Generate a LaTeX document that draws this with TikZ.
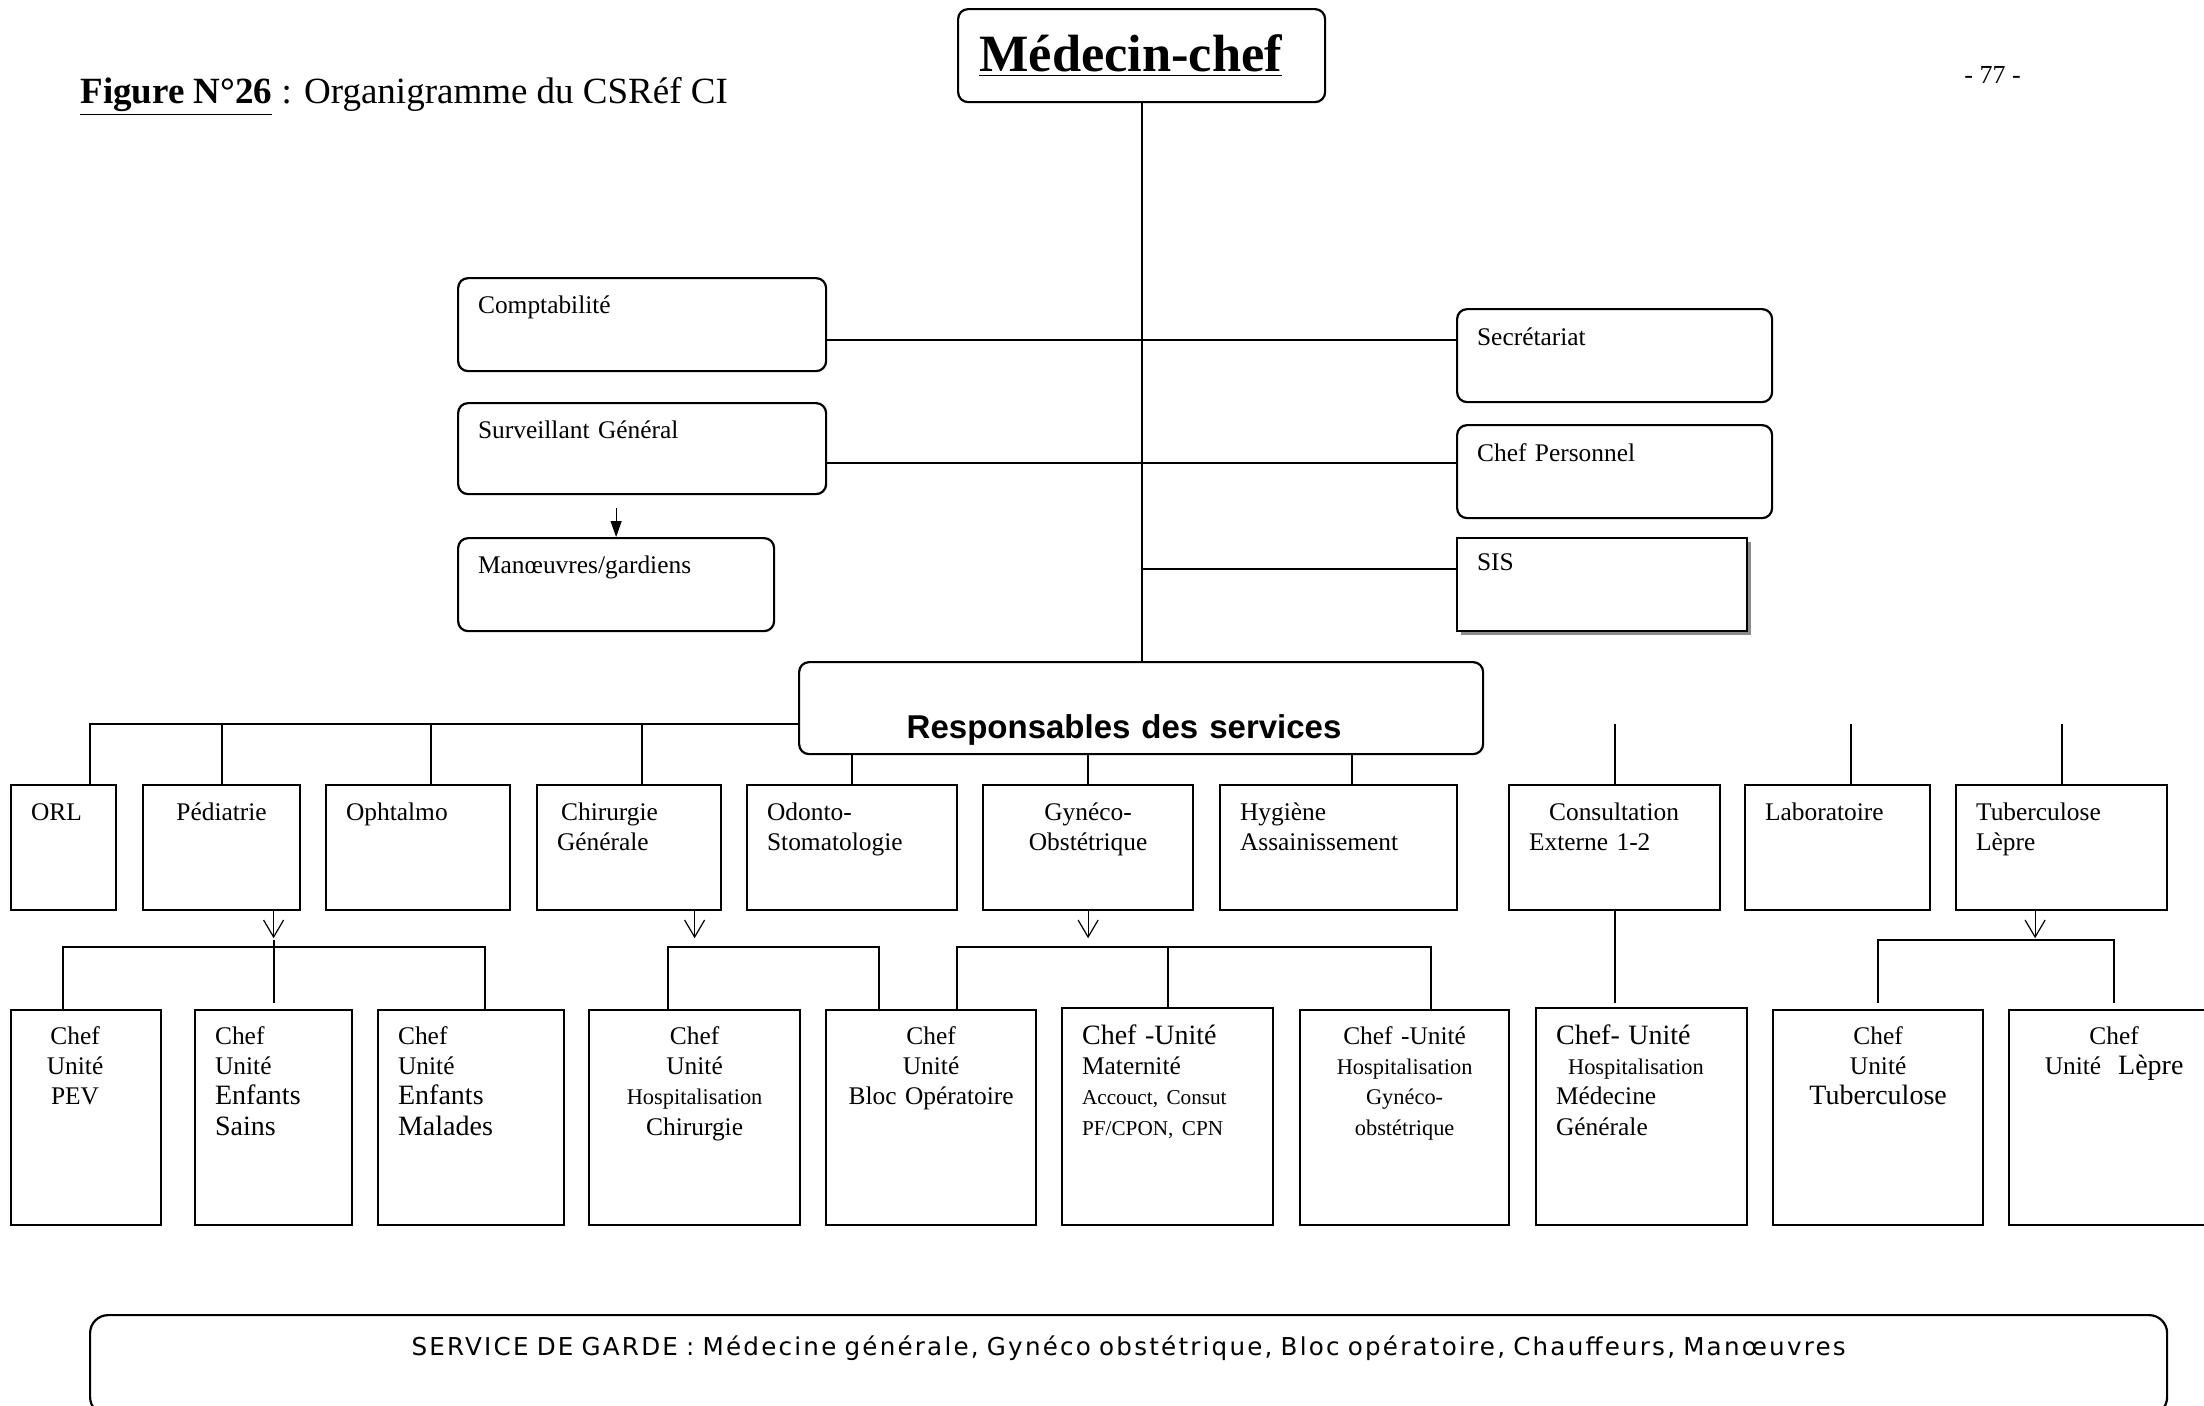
\documentclass[tikz,border=0pt]{standalone}
\usepackage{fontspec}
\setmainfont{Liberation Serif}
\newfontfamily\arialfont{Liberation Sans}
\newfontfamily\gardefont[LetterSpace=9,WordSpace=1.6]{DejaVu Sans}
\usepackage{tikz}
\usetikzlibrary{arrows.meta,calc,shadows}

\newcommand{\petit}{\fontsize{11.2}{15.2}\selectfont}
\newcommand{\grand}{\fontsize{14}{15.2}\selectfont}

\begin{document}
\begin{tikzpicture}[
    x=0.5pt, y=-0.5pt,
    box/.style={draw, line width=1.1pt, anchor=north west, inner xsep=10pt, inner ysep=0pt, font=\fontsize{12.7}{15.2}\selectfont},
    rbox/.style={box, rounded corners=5pt},
    upper/.style={rbox, text width=#1, align=left, text height=17.5pt, text depth=29pt},
    rowone/.style={box, text width=#1, text height=17.6pt, text depth=44.9pt},
    rowtwo/.style={box, text width=#1, text height=17pt, text depth=90.5pt},
    conn/.style={line width=1pt},
    down/.style={line width=0.6pt, -{Straight Barb[length=8.5pt,width=10pt,line width=0.6pt]}},
    solidarrow/.style={line width=0.6pt, -{Triangle[length=8pt,width=5.5pt]}}
]
    \useasboundingbox (0,0) rectangle (2204,1405);
    \clip (0,0) rectangle (2204,1405);

    % Titre
    \node[anchor=base west, inner sep=0pt, font=\fontsize{18.5}{20}\selectfont] (titre) at (80,103) {\underline{\textbf{Figure N°26}} : Organigramme du CSRéf CI};
    \node[anchor=base west, inner sep=0pt, font=\fontsize{13}{15}\selectfont] (page) at (1964,83) {- 77 -};

    % Direction
    \node[rbox, minimum width=183.5pt, minimum height=46.5pt, font=\fontsize{26.2}{28}\selectfont\bfseries] (medecin) at (957,8) {\hspace*{-11pt}\underline{Médecin-chef}};

    % Services rattachés
    \node[upper=164pt] (comp) at (457,277) {Comptabilité};
    \node[upper=164pt, text depth=28pt] (surv) at (457,402) {Surveillant Général};
    \node[upper=138pt] (manoe) at (457,537) {Manœuvres/gardiens};
    \node[upper=137.5pt, text height=18pt, text depth=28.5pt] (secr) at (1456,308) {Secrétariat};
    \node[upper=137.5pt, text height=18pt, text depth=28.5pt] (chefp) at (1456,424) {Chef Personnel};
    \node[box, text width=125pt, align=left, text height=16pt, text depth=30.5pt,
          drop shadow={shadow xshift=2pt, shadow yshift=-2pt, fill=black!45, opacity=1}, fill=white] (sis) at (1456,537) {SIS};

    % Responsables
    \node[rbox, text width=322pt, align=center, text height=38pt, text depth=8pt, font=\arialfont\bfseries\fontsize{16.5}{18}\selectfont] (resp) at (798,661) {\hspace*{-17pt}Responsables des services};

    % Services
    \node[rowone=32.5pt, align=left] (orl) at (10,784) {ORL};
    \node[rowone=58.5pt, align=center] (pedia) at (142,784) {Pédiatrie};
    \node[rowone=72pt, align=left] (ophta) at (325,784) {Ophtalmo};
    \node[rowone=72pt, align=left] (chir) at (536,784) {\hspace*{2pt}Chirurgie\\Générale};
    \node[rowone=85pt, align=left] (odonto) at (746,784) {Odonto-\\Stomatologie};
    \node[rowone=85pt, align=center] (gyneco) at (982,784) {Gynéco-\\Obstétrique};
    \node[rowone=98.5pt, align=left] (hyg) at (1219,784) {Hygiène\\Assainissement};
    \node[rowone=85.5pt, align=left] (cons) at (1508,784) {\hspace*{10pt}Consultation\\Externe 1-2};
    \node[rowone=72.5pt, align=left] (labo) at (1744,784) {Laboratoire};
    \node[rowone=85.5pt, align=left] (tuberl) at (1955,784) {Tuberculose\\Lèpre};

    % Unites
    \node[rowtwo=55pt, align=center] (pev) at (10,1009) {\hspace*{-11pt}Chef\\\hspace*{-11pt}Unité\\\hspace*{-11pt}PEV};
    \node[rowtwo=58.5pt, align=left] (sains) at (194,1009) {Chef\\Unité\\{\grand Enfants}\\{\grand Sains}};
    \node[rowtwo=73pt, align=left] (malades) at (377,1009) {Chef\\Unité\\{\grand Enfants}\\{\grand Malades}};
    \node[rowtwo=85.5pt, align=center] (hchir) at (588,1009) {Chef\\Unité\\{\petit Hospitalisation}\\Chirurgie};
    \node[rowtwo=85pt, align=center] (bloc) at (825,1009) {Chef\\Unité\\Bloc Opératoire};
    \node[rowtwo=85.5pt, align=left, text height=18pt] (mater) at (1061,1007) {{\grand Chef -Unité}\\Maternité\\{\fontsize{10.6}{15.2}\selectfont Accouct, Consut}\\{\fontsize{10.6}{15.2}\selectfont PF/CPON, CPN}};
    \node[rowtwo=84.5pt, align=center] (hgyn) at (1299,1009) {Chef -Unité\\{\petit Hospitalisation}\\{\petit Gynéco-}\\{\petit obstétrique}};
    \node[rowtwo=85.5pt, align=left, text height=18pt] (mgen) at (1535,1007) {{\grand Chef- Unité}\\\hspace*{6pt}{\petit Hospitalisation}\\Médecine\\Générale};
    \node[rowtwo=85pt, align=center] (tub2) at (1772,1009) {Chef\\Unité\\{\grand Tuberculose}};
    \node[rowtwo=85pt, align=center] (lepre) at (2008,1009) {Chef\\Unité\ \ {\grand Lèpre}};

    % Garde
    \node[rbox, rounded corners=9pt, text width=1018.5pt, align=center, text height=20pt, text depth=30pt, font=\gardefont\fontsize{12.3}{14}\selectfont] (garde) at (89,1314) {SERVICE DE GARDE : Médecine générale, Gynéco obstétrique, Bloc opératoire, Chauffeurs, Manœuvres};

    % Liaisons haut
    \draw[conn] (medecin.south) -- (medecin.south |- resp.north);
    \draw[conn] ([yshift=-7.75pt]comp.east) -- ([yshift=-7.75pt]comp.east -| secr.west);
    \draw[conn] ([yshift=-7.25pt]surv.east) -- ([yshift=-7.25pt]surv.east -| chefp.west);
    \draw[conn] ([yshift=7.75pt]sis.west) -- ([yshift=7.75pt]sis.west -| medecin.south);
    \draw[solidarrow] ([yshift=-6.5pt]surv.south -| manoe.north) -- (manoe.north);

    % Liaisons services
    \coordinate (bus) at ([yshift=-8pt]resp.west);
    \draw[conn] (bus) -| ([xshift=13.25pt]orl.north);
    \foreach \n/\s in {pedia/0, ophta/6.5, chir/6.5}
        \draw[conn] ([xshift=\s pt]\n.north) -- ([xshift=\s pt]\n.north |- bus);
    \foreach \n/\s in {odonto/0, gyneco/0, hyg/6.75}
        \draw[conn] ([xshift=\s pt]\n.north) -- ([xshift=\s pt]\n.north |- resp.south);
    \foreach \n/\s in {cons/0, labo/6.75, tuberl/0}
        \draw[conn] ([xshift=\s pt]\n.north) -- ([xshift=\s pt]\n.north |- bus);

    % Fleches vers unites
    \draw[down] (pedia.south -| sains.north) -- ++(0,27);
    \draw[down] (chir.south -| hchir.north) -- ++(0,27);
    \draw[down] (gyneco.south) -- ++(0,27);
    \draw[down] ([xshift=-13.25pt]tuberl.south) -- ++(0,27);

    % Liaisons unites
    \draw[conn] ([xshift=-11.5pt]pev.north) -- ++(0,-62) -| ([xshift=6.75pt]malades.north);
    \draw[conn] ([yshift=3pt]sains.north) -- ++(0,-63);
    \draw[conn] ([xshift=-13.25pt]hchir.north) -- ++(0,-62) -| ([xshift=-26pt]bloc.north);
    \draw[conn] ([xshift=13pt]bloc.north) -- ++(0,-62) -| ([xshift=13.25pt]hgyn.north);
    \draw[conn] (mater.north) -- ++(0,-59);
    \draw[conn] (cons.south) -- ([yshift=2pt]cons.south |- mgen.north);
    \draw[conn] ([yshift=3pt]tub2.north) -- ++(0,-63) -| ([yshift=3pt]lepre.north);
\end{tikzpicture}
\end{document}
